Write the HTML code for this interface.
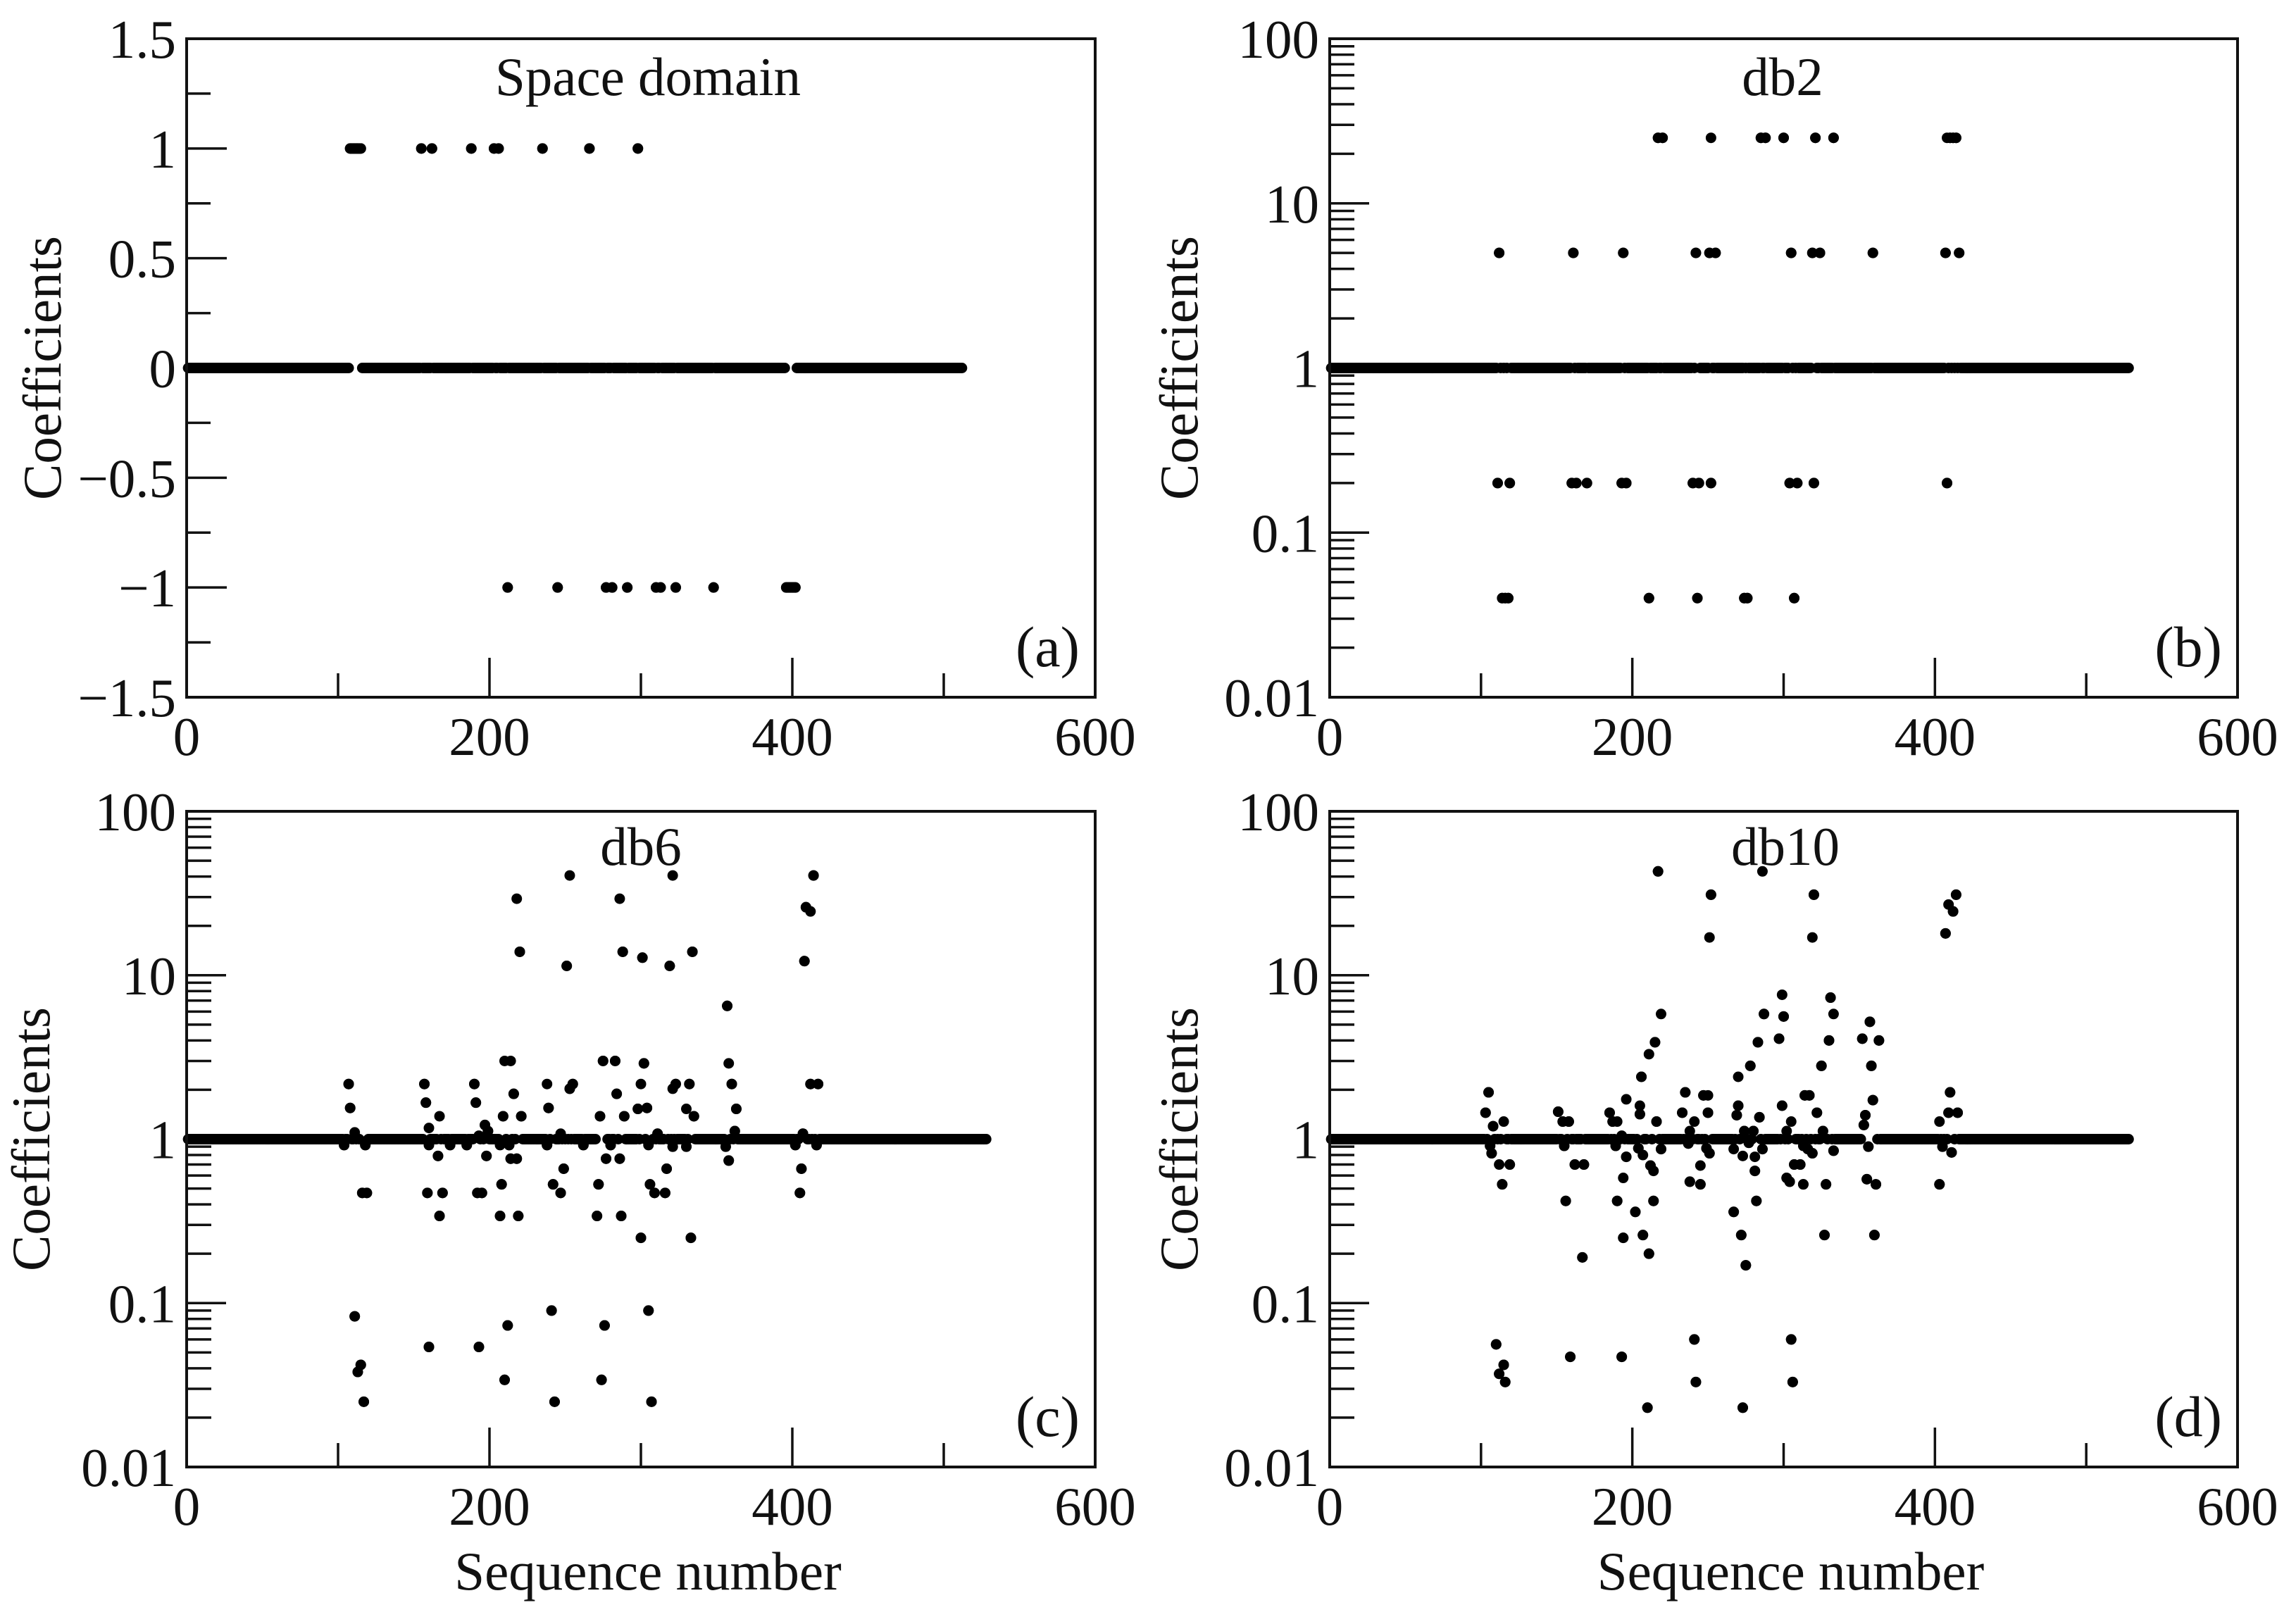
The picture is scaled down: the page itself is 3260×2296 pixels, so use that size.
<!DOCTYPE html>
<html><head><meta charset="utf-8"><style>
html,body{margin:0;padding:0;background:#fff}
svg{display:block}
text{font-family:"Liberation Serif",serif;fill:#111}
</style></head><body>
<svg id="fig" xmlns="http://www.w3.org/2000/svg" width="3260" height="2296" viewBox="0 0 3260 2296"></svg>
<script>
// ---- data ----
const xTickLabels = ["0","200","400","600"];
const linTickLabels = ["1.5","1","0.5","0","\u22120.5","\u22121","\u22121.5"];
const logTickLabels = ["100","10","1","0.1","0.01"];

const aCount = 512;
const aIdx = [108,109,110,111,112,113,114,115,155,162,188,203,206,235,266,298, 212,245,277,281,291,310,313,323,348,396,397,398,399,400,401,402];
const aVal = [1,1,1,1,1,1,1,1,1,1,1,1,1,1,1,1, -1,-1,-1,-1,-1,-1,-1,-1,-1,-1,-1,-1,-1,-1,-1,-1];

const bCount = 528;
const bIdx = [217,220,252,285,288,300,321,333,408,410,412,414,
 112,161,194,242,251,255,305,319,324,359,407,416,
 111,119,160,163,170,193,196,240,244,252,304,309,320,408,
 114,116,118,211,243,274,276,307];
const bVal = [25,25,25,25,25,25,25,25,25,25,25,25,
 5,5,5,5,5,5,5,5,5,5,5,5,
 0.2,0.2,0.2,0.2,0.2,0.2,0.2,0.2,0.2,0.2,0.2,0.2,0.2,0.2,
 0.04,0.04,0.04,0.04,0.04,0.04,0.04,0.04];

const cCount = 528;
const cIdx = [253,321,414,218,286,409,412,220,288,334,301,251,319,408,357,
 210,214,275,283,302,358,
 107,157,190,238,255,253,300,323,321,332,360,412,417,216,284,158,191,
 108,239,298,304,330,363,167,209,221,273,289,335,197,160,
 111,104,118,160,174,185,193,199,207,213,238,247,262,280,305,311,321,330,356,362,402,407,416,
 166,214,218,277,286,198,358,249,317,406,208,242,272,306,
 116,119,159,169,192,195,247,309,316,405,167,207,219,271,287,300,333,
 111,241,305,212,276,160,193,115,113,210,274,117,243,307];
const cVal = [40.6,40.6,40.6,29.3,29.3,26,24.5,13.9,13.9,13.9,12.8,11.4,11.4,12.2,6.5,
 3,3,3,3,2.9,2.9,
 2.17,2.17,2.17,2.17,2.17,2.03,2.17,2.17,2.03,2.17,2.17,2.17,2.17,1.89,1.89,1.67,1.67,
 1.55,1.55,1.53,1.55,1.53,1.53,1.38,1.38,1.38,1.38,1.38,1.38,1.22,1.17,
 1.1,0.92,0.92,0.92,0.92,0.92,1.05,1.12,0.92,0.92,0.92,1.08,0.92,0.92,0.92,1.08,0.9,0.9,0.9,1.12,0.92,1.08,0.92,
 0.79,0.76,0.76,0.76,0.76,0.79,0.74,0.66,0.66,0.66,0.53,0.53,0.53,0.53,
 0.47,0.47,0.47,0.47,0.47,0.47,0.47,0.47,0.47,0.47,0.34,0.34,0.34,0.34,0.34,0.25,0.25,
 0.083,0.09,0.09,0.073,0.073,0.054,0.054,0.042,0.038,0.034,0.034,0.025,0.025,0.025];

const dCount = 528;
const dIdx = [217,286,252,320,414,409,412,251,319,407,
 299,331,219,287,300,333,357,215,283,297,330,352,363,211,278,325,358,206,270,
 105,235,247,250,314,317,410,196,359,205,270,299,
 103,151,185,205,233,250,269,284,322,409,415,354,
 115,154,158,187,190,216,241,305,403,353,108,238,274,280,302,326,
 106,155,189,204,219,237,249,267,286,313,316,333,356,405,411,193,277,
 107,196,207,251,273,281,319,112,119,162,168,212,245,307,311,214,281,
 194,238,245,302,304,114,313,328,355,361,403,156,190,214,282,202,267,
 194,207,272,327,360,167,211,275,
 110,241,305,159,193,115,112,116,242,306,210,273];
const dVal = [43,43,31,31,31,27,24.5,17,17,18,
 7.6,7.3,5.8,5.8,5.6,5.8,5.2,3.9,3.9,4.1,4.0,4.1,4.0,3.3,2.8,2.8,2.8,2.4,2.4,
 1.93,1.93,1.85,1.85,1.85,1.85,1.93,1.75,1.73,1.6,1.6,1.6,
 1.45,1.47,1.45,1.42,1.45,1.45,1.4,1.36,1.45,1.45,1.45,1.4,
 1.28,1.28,1.28,1.28,1.28,1.28,1.28,1.28,1.28,1.22,1.2,1.12,1.12,1.12,1.12,1.12,
 0.91,0.91,0.91,0.88,0.87,0.94,0.88,0.87,0.87,0.91,0.87,0.85,0.9,0.9,0.83,1.05,0.95,
 0.82,0.78,0.8,0.82,0.79,0.78,0.82,0.7,0.7,0.7,0.7,0.69,0.69,0.7,0.7,0.64,0.64,
 0.58,0.55,0.53,0.58,0.55,0.53,0.53,0.53,0.57,0.53,0.53,0.42,0.42,0.42,0.42,0.36,0.36,
 0.25,0.26,0.26,0.26,0.26,0.19,0.2,0.17,
 0.056,0.06,0.06,0.047,0.047,0.042,0.037,0.033,0.033,0.033,0.023,0.023];

// ---- drawing ----
const NS = "http://www.w3.org/2000/svg";
const svg = document.getElementById('fig');
function mk(tag, attrs, parent){
  const e = document.createElementNS(NS, tag);
  for (const k in attrs) e.setAttribute(k, attrs[k]);
  (parent||svg).appendChild(e);
  return e;
}
const FS = 77;

function panel(cfg){
  const g = mk('g', {});
  
  
  const L=cfg.L,R=cfg.R,T=cfg.T,B=cfg.B;
  const xs = v => L + (v/600)*(R-L);
  let ys;
  if (cfg.log) ys = v => B - (Math.log10(v)+2)/4*(B-T);
  else ys = v => B - (v+1.5)/3*(B-T);

  const yt = mk('g', {}, g);
  
  
  if (cfg.log){
    for (let d=-2; d<2; d++){
      for (let m=1; m<10; m++){
        const v = m*Math.pow(10,d);
        const len = m===1?56:35;
        mk('line',{x1:L,x2:L+len,y1:ys(v),y2:ys(v),stroke:'#111','stroke-width':3.5},yt);
      }
    }
    logTickLabels.forEach((s,i)=>{
      const v = Math.pow(10,2-i);
      const t = mk('text',{x:L-15,y:ys(v)+27,'font-size':FS,'text-anchor':'end'},yt);
      
      
      t.textContent = s;
    });
  } else {
    for (let k=0;k<=12;k++){
      const v = 1.5 - k*0.25;
      const len = k%2===0?57:34;
      mk('line',{x1:L,x2:L+len,y1:ys(v),y2:ys(v),stroke:'#111','stroke-width':3.5},yt);
    }
    linTickLabels.forEach((s,i)=>{
      const v = 1.5 - i*0.5;
      const t = mk('text',{x:L-15,y:ys(v)+27,'font-size':FS,'text-anchor':'end'},yt);
      
      
      t.textContent = s;
    });
  }
  const xt = mk('g', {}, g);
  
  
  for (let v=100; v<600; v+=100){
    const len = v%200===0?56:34;
    mk('line',{x1:xs(v),x2:xs(v),y1:B,y2:B-len,stroke:'#111','stroke-width':3.5},xt);
  }
  xTickLabels.forEach((s,i)=>{
    const t = mk('text',{x:xs(i*200),y:B+82,'font-size':FS,'text-anchor':'middle'},xt);
    
    
    t.textContent = s;
  });

  const base = cfg.log?1:0;
  const vals = new Array(cfg.count).fill(base);
  cfg.idx.forEach((ix,i)=>{ if (ix-1 < cfg.count && ix>=1) vals[ix-1] = cfg.val[i]; });
  const pts = mk('g', {fill:'#000'}, g);
  
  
  vals.forEach((v,i)=>{
    mk('circle',{cx:xs(i+1),cy:ys(v),r:7.5},pts);
  });
  cfg.idx.forEach((ix,i)=>{
    const c = mk('circle',{cx:xs(ix),cy:ys(cfg.val[i]),r:7.5},pts);
    
    
  });

  const fr = mk('rect',{x:L,y:T,width:R-L,height:B-T,fill:'none',stroke:'#111','stroke-width':4},g);
  
  

  const tt = mk('text',{x:cfg.tx,y:cfg.ty,'font-size':FS,'text-anchor':'middle'},g);
  
  
  tt.textContent = cfg.title;
  const pl = mk('text',{x:R-22,y:B-44,'font-size':82,'text-anchor':'end'},g);
  
  
  pl.textContent = cfg.letter;
  const yl = mk('text',{x:cfg.ylx,y:(T+B)/2,'font-size':FS,'text-anchor':'middle',transform:`rotate(-90 ${cfg.ylx} ${(T+B)/2})`},g);
  
  
  yl.textContent = 'Coefficients';
  if (cfg.xlabel){
    const xl = mk('text',{x:(L+R)/2 + 10,y:2257,'font-size':FS,'text-anchor':'middle'},g);
    
    
    xl.textContent = 'Sequence number';
  }
}

panel({name:'panel-a-space-domain',L:265,R:1555,T:55,B:990,log:false,count:aCount,idx:aIdx,val:aVal,title:'Space domain',tx:920,ty:135,letter:'(a)',ylx:86});
panel({name:'panel-b-db2',L:1888,R:3177,T:55,B:990,log:true,count:bCount,idx:bIdx,val:bVal,title:'db2',tx:2531,ty:135,letter:'(b)',ylx:1700});
panel({name:'panel-c-db6',L:265,R:1555,T:1152,B:2083,log:true,count:cCount,idx:cIdx,val:cVal,title:'db6',tx:910,ty:1228,letter:'(c)',ylx:70,xlabel:true});
panel({name:'panel-d-db10',L:1888,R:3177,T:1152,B:2083,log:true,count:dCount,idx:dIdx,val:dVal,title:'db10',tx:2535,ty:1228,letter:'(d)',ylx:1700,xlabel:true});
</script>
</body></html>
